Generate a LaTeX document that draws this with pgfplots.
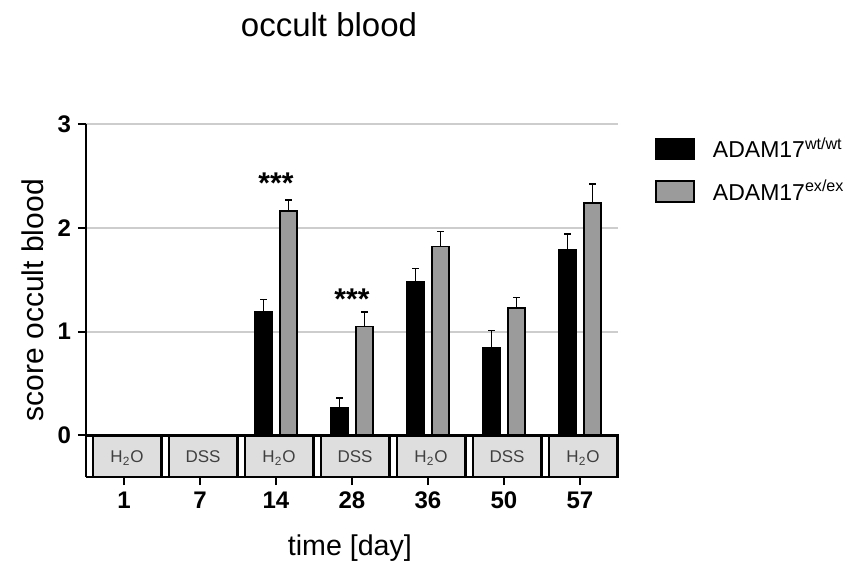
\documentclass[border=0pt]{standalone}
\usepackage{pgfplots}
\pgfplotsset{compat=1.18}
\usepackage{fontspec}
\setmainfont{Liberation Sans}
\definecolor{barGray}{RGB}{155,155,155}
\definecolor{boxGray}{RGB}{222,222,222}
\definecolor{gridGray}{RGB}{205,205,205}
\begin{document}
\begin{tikzpicture}
\useasboundingbox (-43pt,-42pt) rectangle (384pt,238.5pt);
\begin{axis}[
  scale only axis,
  width=266pt, height=176.5pt,
  xmin=-0.5, xmax=6.5, ymin=-0.4, ymax=3,
  clip=false,
  axis x line*=bottom, axis y line*=left,
  axis line style={line width=1pt, black},
  xtick={0,1,2,3,4,5,6},
  xticklabels={1,7,14,28,36,50,57},
  ytick={0,1,2,3},
  yticklabels={0,1,2,3},
  ticklabel style={font=\bfseries\fontsize{12}{14}\selectfont},
  tick align=outside,
  major tick length=4pt,
  tick style={line width=1pt, black},
  ymajorgrids,
  grid style={line width=1pt, gridGray},
  ybar,
  bar width=8.5pt,
  title={occult blood},
  title style={at={(axis description cs:0.4568,1.2125)}, anchor=base, font=\fontsize{16.5}{18}\selectfont},
  xlabel={time [day]},
  xlabel style={at={(axis description cs:0.496,-0.221)}, anchor=base, font=\fontsize{14.3}{16}\selectfont},
  ylabel={score occult blood},
  ylabel style={at={(axis description cs:-0.0808,0.501)}, anchor=base, rotate=0, font=\fontsize{15}{17}\selectfont},
  legend style={at={(axis description cs:1.0695,0.9745)}, anchor=north west, draw=none, fill=none,
    inner sep=0pt, row sep=5.5pt, column sep=7pt, font=\fontsize{11.5}{13}\selectfont},
  legend cell align=left,
  legend image code/.code={\draw[#1, line width=0.8pt] (0pt,-5.25pt) rectangle (19pt,5.25pt);},
]
\addplot[fill=black, draw=black, line width=0.8pt, bar shift=-6.25pt,
  error bars/.cd, y dir=plus, y explicit,
  error bar style={line width=0.8pt, black},
  error mark options={rotate=90, mark size=1.6pt, line width=0.8pt, black}]
  coordinates {(2,1.19) +- (0,0.12) (3,0.27) +- (0,0.09) (4,1.48) +- (0,0.13) (5,0.84) +- (0,0.17) (6,1.79) +- (0,0.15)};
\addlegendentry{ADAM17\textsuperscript{wt/wt}}
\addplot[fill=barGray, draw=black, line width=0.8pt, bar shift=6.25pt,
  error bars/.cd, y dir=plus, y explicit,
  error bar style={line width=0.8pt, black},
  error mark options={rotate=90, mark size=1.6pt, line width=0.8pt, black}]
  coordinates {(2,2.16) +- (0,0.11) (3,1.05) +- (0,0.14) (4,1.82) +- (0,0.145) (5,1.23) +- (0,0.10) (6,2.24) +- (0,0.18)};
\addlegendentry{ADAM17\textsuperscript{ex/ex}}
% treatment boxes
\draw[fill=boxGray, line width=1.3pt] (axis cs:-0.41,-0.4) rectangle (axis cs:0.49,0);
\draw[fill=boxGray, line width=1.3pt] (axis cs:0.59,-0.4) rectangle (axis cs:1.49,0);
\draw[fill=boxGray, line width=1.3pt] (axis cs:1.59,-0.4) rectangle (axis cs:2.49,0);
\draw[fill=boxGray, line width=1.3pt] (axis cs:2.59,-0.4) rectangle (axis cs:3.49,0);
\draw[fill=boxGray, line width=1.3pt] (axis cs:3.59,-0.4) rectangle (axis cs:4.49,0);
\draw[fill=boxGray, line width=1.3pt] (axis cs:4.59,-0.4) rectangle (axis cs:5.49,0);
\draw[fill=boxGray, line width=1.3pt] (axis cs:5.59,-0.4) rectangle (axis cs:6.49,0);
\draw[line width=1.2pt] (axis cs:-0.5,0) -- (axis cs:6.5,0);
\draw[line width=1.2pt] (axis cs:-0.5,-0.4) -- (axis cs:6.5,-0.4);
\begin{scope}[every node/.style={anchor=base, font=\fontsize{8.5}{10}\selectfont, text=black!75}]
\node at (axis cs:0.04,-0.26) {H\textsubscript{2}O};
\node at (axis cs:1.04,-0.26) {DSS};
\node at (axis cs:2.04,-0.26) {H\textsubscript{2}O};
\node at (axis cs:3.04,-0.26) {DSS};
\node at (axis cs:4.04,-0.26) {H\textsubscript{2}O};
\node at (axis cs:5.04,-0.26) {DSS};
\node at (axis cs:6.04,-0.26) {H\textsubscript{2}O};
\end{scope}
\node[anchor=base, yshift=-8.5pt, font=\bfseries\fontsize{15}{17}\selectfont] at (axis cs:2,2.495) {***};
\node[anchor=base, yshift=-8.5pt, font=\bfseries\fontsize{15}{17}\selectfont] at (axis cs:3,1.375) {***};
\end{axis}
\end{tikzpicture}
\end{document}
